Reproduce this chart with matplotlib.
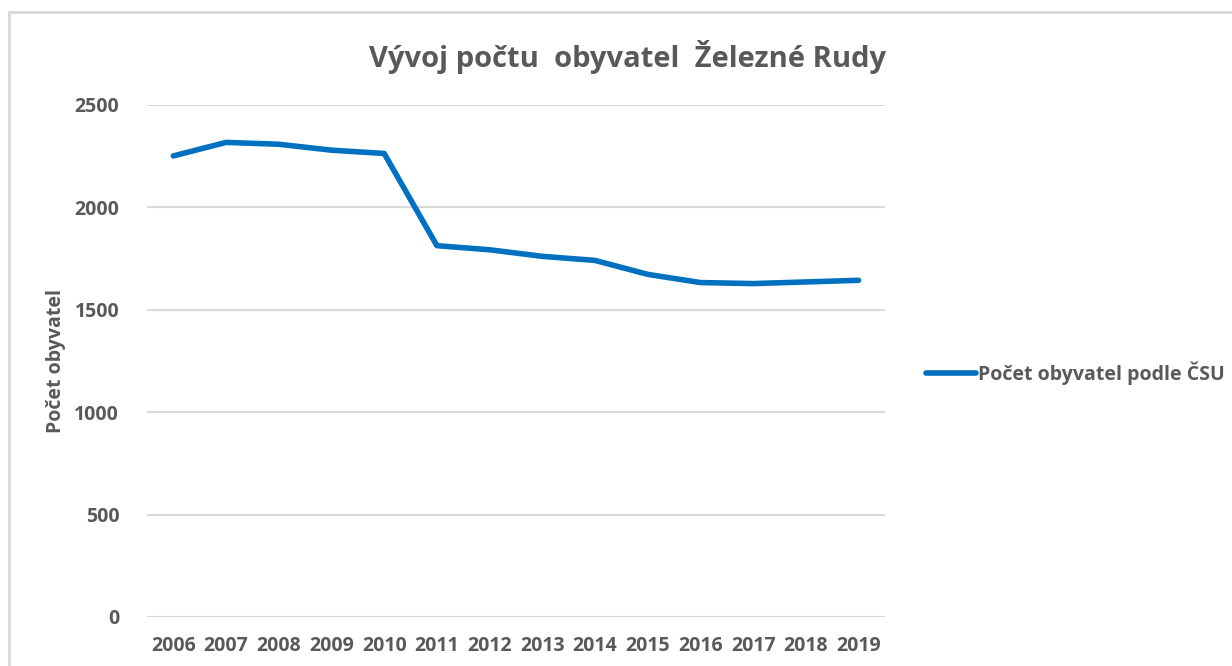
import matplotlib
matplotlib.use('Agg')
import matplotlib.pyplot as plt
from matplotlib.lines import Line2D

# data
years = ['2006', '2007', '2008', '2009', '2010', '2011', '2012',
         '2013', '2014', '2015', '2016', '2017', '2018', '2019']
population = [2250, 2316, 2307, 2278, 2262, 1812, 1792,
              1760, 1740, 1672, 1632, 1627, 1635, 1643]
yticks = [0, 500, 1000, 1500, 2000, 2500]

text_color = '#595959'
line_color = '#0070C0'
grid_color = '#d9d9d9'

plt.rcParams['font.family'] = ['Open Sans', 'DejaVu Sans']
plt.rcParams['font.weight'] = 'bold'

fig = plt.figure(figsize=(12.32, 6.66), dpi=100)
ax = fig.add_axes([0.1193, 0.0736, 0.599, 0.7692])

x = list(range(len(years)))
ax.plot(x, population, color=line_color, linewidth=4,
        solid_capstyle='round', solid_joinstyle='round', zorder=3)

ax.set_xlim(-0.5, len(years) - 0.5)
ax.set_ylim(0, 2500)
ax.set_yticks(yticks)
ax.set_xticks(x)
ax.set_xticklabels(years)
ax.yaxis.grid(True, color=grid_color, linewidth=1.5)
ax.set_axisbelow(True)
for s in ax.spines.values():
    s.set_visible(False)
ax.tick_params(axis='both', length=0, labelsize=14, labelcolor=text_color)
ax.tick_params(axis='y', pad=20)
ax.tick_params(axis='x', pad=14)

ax.set_ylabel('Počet obyvatel', fontsize=14, color=text_color,
              fontweight='bold', labelpad=0)
ax.yaxis.set_label_coords(-0.11, 0.5)

fig.text(0.5097, 0.914, 'Vývoj počtu  obyvatel  Železné Rudy',
         ha='center', va='center', fontsize=21, color=text_color,
         fontweight='bold')

handle = Line2D([], [], color=line_color, linewidth=4, solid_capstyle='round')
leg = fig.legend([handle], ['Počet obyvatel podle ČSU'], loc='center left',
                 bbox_to_anchor=(0.745, 1 - 373 / 666), frameon=False,
                 fontsize=14, handlelength=2.6, handletextpad=0.1,
                 borderaxespad=0)
for t in leg.get_texts():
    t.set_color(text_color)

# light chart-area border (left and top visible)
fig.add_artist(Line2D([9 / 1232, 9 / 1232], [0, 1 - 12 / 666],
                      transform=fig.transFigure, color=grid_color, linewidth=2))
fig.add_artist(Line2D([9 / 1232, 1], [1 - 12 / 666, 1 - 12 / 666],
                      transform=fig.transFigure, color=grid_color, linewidth=2))

fig.savefig('out.png', dpi=100)
